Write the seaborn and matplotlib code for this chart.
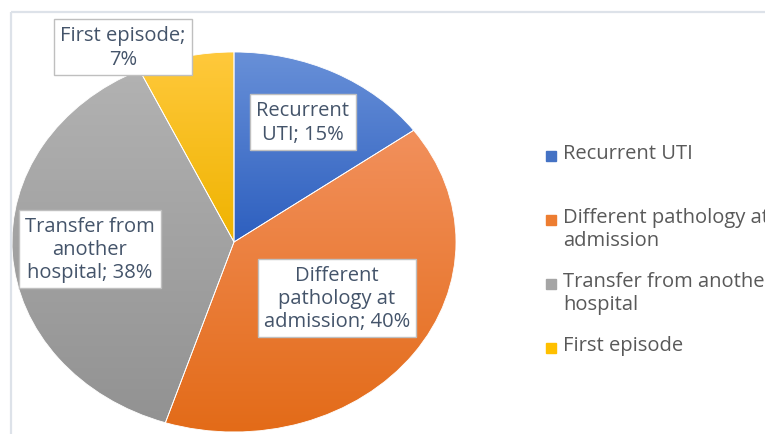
import numpy as np
import matplotlib
matplotlib.use("Agg")
import matplotlib.pyplot as plt
from matplotlib.patches import Rectangle
import seaborn as sns

categories = ["Recurrent UTI", "Different pathology at admission",
              "Transfer from another hospital", "First episode"]
values = [15, 40, 38, 7]
slice_labels = ["Recurrent\nUTI; 15%", "Different\npathology at\nadmission; 40%",
                "Transfer from\nanother\nhospital; 38%", "First episode;\n7%"]
legend_labels = ["Recurrent UTI", "Different pathology at\nadmission",
                 "Transfer from another\nhospital", "First episode"]

# excel style fills: (top, bottom) of each slice, plus solid legend colour
grad_colors = [("#6890d8", "#2d5fbf"), ("#f2905c", "#e36b18"),
               ("#b2b2b2", "#929292"), ("#ffc93c", "#efb300")]
solid_colors = ["#4472c4", "#ed7d31", "#a5a5a5", "#ffc000"]

sns.set_theme(style="white")
plt.rcParams["font.family"] = ["Open Sans", "DejaVu Sans"]

W, H = 765, 435
fig = plt.figure(figsize=(W / 100, H / 100), dpi=100)

# pie axes, stretched a bit wider than tall like the original
cx, cy, rx, ry = 234, 243, 222, 190
ax = fig.add_axes([(cx - rx) / W, 1 - (cy + ry) / H, 2 * rx / W, 2 * ry / H])
wedges, _ = ax.pie(values, startangle=90, counterclock=False, radius=1,
                   wedgeprops=dict(edgecolor="white", linewidth=0.6))
for w, (top, bot) in zip(wedges, grad_colors):
    bb = w.get_path().get_extents()
    cmap = sns.blend_palette([bot, top], as_cmap=True)
    grad = np.linspace(0, 1, 256).reshape(-1, 1)
    im = ax.imshow(grad, cmap=cmap, origin="lower", aspect="auto",
                   extent=(bb.x0, bb.x1, bb.y0, bb.y1), zorder=1)
    im.set_clip_path(w)
    w.set_facecolor("none")
    w.set_zorder(2)
ax.set_xlim(-1, 1)
ax.set_ylim(-1, 1)
ax.set_aspect("auto")
ax.axis("off")

# overlay in pixel coords for frame, data labels and legend
ov = fig.add_axes([0, 0, 1, 1])
ov.set_xlim(0, W)
ov.set_ylim(H, 0)
ov.axis("off")
ov.patch.set_alpha(0)

ov.plot([11, W], [13, 13], color="#dde2e9", lw=1.6, solid_capstyle="butt")
ov.plot([11, 11], [13, H], color="#dde2e9", lw=1.6, solid_capstyle="butt")

label_pos = [(303, 123), (337, 299), (90, 250), (123, 48)]
for (x, y), txt in zip(label_pos, slice_labels):
    ov.text(x, y, txt, ha="center", va="center", fontsize=14.5, color="#44546a",
            linespacing=1.22,
            bbox=dict(boxstyle="square,pad=0.3", fc="white", ec="#bfbfbf", lw=1))

for i, (lab, col) in enumerate(zip(legend_labels, solid_colors)):
    y = 157 + 64 * i
    ov.add_patch(Rectangle((546, y - 5), 10, 10, color=col))
    ov.text(563, y - 13, lab, ha="left", va="top", fontsize=14.5,
            color="#595959", linespacing=1.22)

fig.savefig("out.png", dpi=100)
